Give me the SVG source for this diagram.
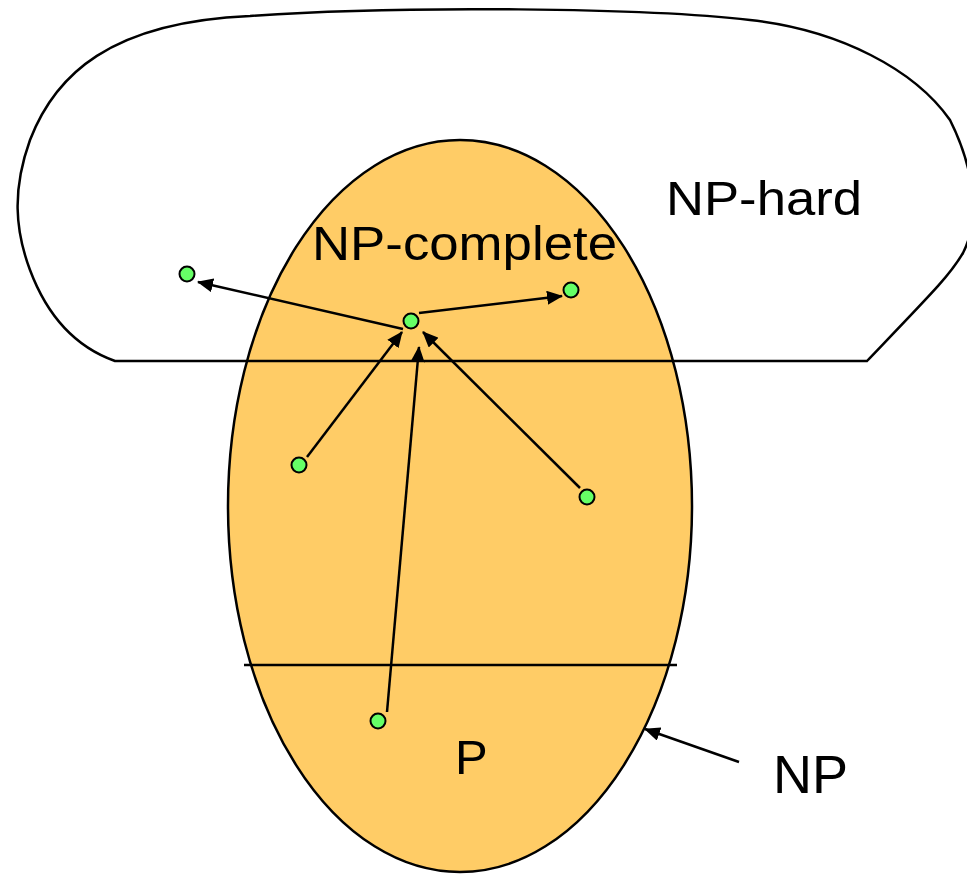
<svg xmlns="http://www.w3.org/2000/svg" width="967" height="874" viewBox="0 0 967 874">
<defs>
<style>
.ln{fill:none;stroke:#000;stroke-width:2.5}
.node{fill:#66FF66;stroke:#000;stroke-width:2}
.lbl{font-family:"Liberation Sans",Arial,sans-serif;fill:#000}
</style>
<marker id="ah" viewBox="0 0 16 14" refX="15" refY="7" markerWidth="16" markerHeight="14" markerUnits="userSpaceOnUse" orient="auto">
<path d="M0,0 L16,7 L0,14 Z" fill="#000"/>
</marker>
</defs>
<rect width="967" height="874" fill="#fff"/>
<g id="np">
<ellipse cx="460" cy="506" rx="232" ry="366" fill="#FFCC66" stroke="#000" stroke-width="2.5"/>
</g>
<g id="np-hard">
<path class="ln" d="M115,361 C70,345 45,310 30,270 C15,230 12,190 30,140 C55,75 110,22 250,16 C400,5 650,8 750,20 C840,30 915,70 950,120 C975,170 980,220 963,253 C950,275 935,290 867,361 Z"/>
</g>
<g id="p-line">
<line class="ln" x1="244" y1="665" x2="677" y2="665"/>
</g>
<g id="connectors">
<line class="ln" x1="403" y1="329" x2="198" y2="282" marker-end="url(#ah)"/>
<line class="ln" x1="419" y1="313" x2="562" y2="296" marker-end="url(#ah)"/>
<line class="ln" x1="307" y1="457" x2="402" y2="332" marker-end="url(#ah)"/>
<line class="ln" x1="387" y1="712" x2="419" y2="347" marker-end="url(#ah)"/>
<line class="ln" x1="580" y1="488" x2="423" y2="332" marker-end="url(#ah)"/>
<line class="ln" x1="739" y1="762" x2="645" y2="729" marker-end="url(#ah)"/>
</g>
<g id="n1"><circle class="node" cx="187" cy="274" r="7.5"/></g>
<g id="n2"><circle class="node" cx="571" cy="290" r="7.5"/></g>
<g id="n3"><circle class="node" cx="411" cy="321" r="7.5"/></g>
<g id="n4"><circle class="node" cx="299" cy="465" r="7.5"/></g>
<g id="n5"><circle class="node" cx="587" cy="497" r="7.5"/></g>
<g id="n6"><circle class="node" cx="378" cy="721" r="7.5"/></g>
<g id="labels">
<text class="lbl" x="312" y="260" font-size="49" textLength="305" lengthAdjust="spacingAndGlyphs">NP-complete</text>
<text class="lbl" x="666" y="215" font-size="49" textLength="196" lengthAdjust="spacingAndGlyphs">NP-hard</text>
<text class="lbl" x="773" y="793" font-size="54">NP</text>
<text class="lbl" x="455" y="774" font-size="49">P</text>
</g>
</svg>
